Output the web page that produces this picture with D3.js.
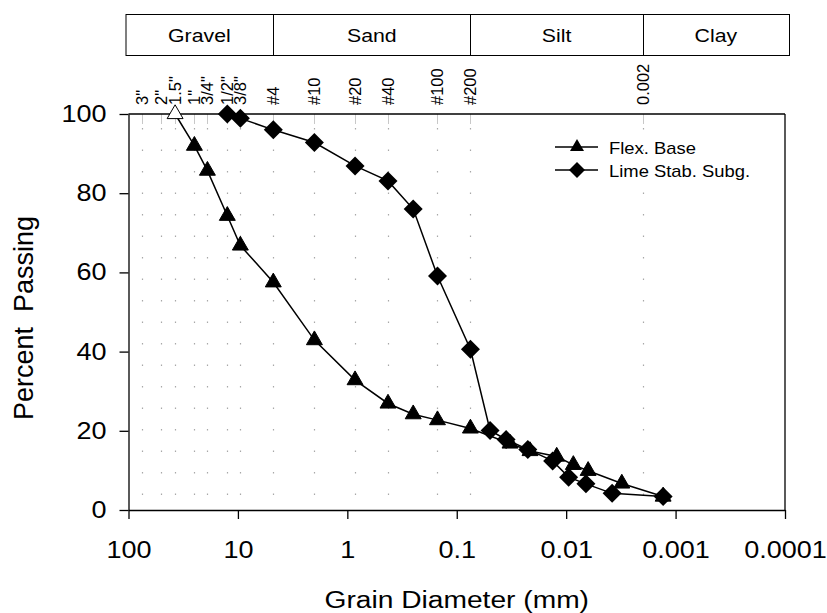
<!DOCTYPE html>
<html>
<head>
<meta charset="utf-8">
<script src="https://cdn.jsdelivr.net/npm/d3@7"></script>
<style>
  html, body { margin: 0; padding: 0; background: #fff; }
  svg { display: block; font-family: "Liberation Sans", Arial, sans-serif; }
</style>
</head>
<body>
<svg id="chart" width="827" height="613"></svg>
<script>
// Sieve openings (mm) and their labels along the top of the plot
const sieveLabels = ['3"', '2"', '1.5"', '1"', '3/4"', '1/2"', '3/8"', '#4', '#10', '#20', '#40', '#100', '#200', '0.002'];
const sieveSizes  = [75, 50, 37.5, 25, 19, 12.5, 9.5, 4.75, 2.0, 0.85, 0.425, 0.15, 0.075, 0.002];

// Soil classes and their boundaries (mm)
const soilClasses = ['Gravel', 'Sand', 'Silt', 'Clay'];
const classBreaks = [4.75, 0.075, 0.002];

// Axis ticks
const xTicks = [100, 10, 1, 0.1, 0.01, 0.001, 0.0001];
const xTickLabels = ['100', '10', '1', '0.1', '0.01', '0.001', '0.0001'];
const yTicks = [0, 20, 40, 60, 80, 100];

// Flex. Base gradation
const flexDiam = [37.5, 25, 19, 12.5, 9.5, 4.75, 2.0, 0.85, 0.425, 0.25, 0.15, 0.075, 0.0326, 0.0214, 0.0122, 0.0086, 0.0063, 0.0031, 0.0013];
const flexPass = [100, 92, 85.7, 74.3, 66.8, 57.5, 42.9, 32.8, 26.9, 24.2, 22.7, 20.6, 16.8, 14.9, 13.5, 11.4, 9.9, 6.7, 3.4];

// Lime Stab. Subg. gradation
const limeDiam = [12.5, 9.5, 4.75, 2.0, 0.85, 0.425, 0.25, 0.15, 0.075, 0.0496, 0.0354, 0.0224, 0.0133, 0.0095, 0.0066, 0.0038, 0.0013];
const limePass = [100, 98.9, 96.0, 92.8, 86.9, 83.1, 76.0, 59.1, 40.6, 20.1, 17.8, 15.3, 12.4, 8.3, 6.6, 4.2, 3.4];

const seriesNames = ['Flex. Base', 'Lime Stab. Subg.'];

const svg = d3.select('#chart');
const plotLeft = 128.5, plotRight = 785, plotTop = 114, plotBottom = 510;
const FONT = '"Liberation Sans", Arial, sans-serif';
const SX = 1.15;          // horizontal widening applied to upright text
const tickFont = 23.5;

const x = d3.scaleLog().domain([100, 0.0001]).range([plotLeft, plotRight]);
const y = d3.scaleLinear().domain([0, 100]).range([plotBottom, plotTop]);

// upright text, widened horizontally about its anchor point
function wideText(parent, tx, ty, str, size, anchor) {
  return parent.append('text')
    .attr('transform', `translate(${tx},${ty}) scale(${SX},1)`)
    .attr('text-anchor', anchor || 'start')
    .attr('font-size', size)
    .text(str);
}

// Sieve grid: short solid tick at the top, then a sparse dotted line
const grid = svg.append('g');
sieveSizes.forEach(s => {
  const gx = Math.round(x(s)) + 0.5;
  grid.append('line')
    .attr('x1', gx).attr('x2', gx).attr('y1', plotTop).attr('y2', plotTop + 10)
    .attr('stroke', '#c8c8c8').attr('stroke-width', 1);
  grid.append('line')
    .attr('x1', gx).attr('x2', gx).attr('y1', plotTop + 14).attr('y2', plotBottom - 4)
    .attr('stroke', '#a8a8a8').attr('stroke-width', 1.2)
    .attr('stroke-dasharray', '1.5,20');
});

// Sieve labels, rotated
svg.append('g').selectAll('text')
  .data(sieveSizes)
  .join('text')
  .attr('transform', d => `translate(${x(d) + 6},105) rotate(-90)`)
  .attr('text-anchor', 'start')
  .attr('font-size', 16.5)
  .attr('fill', '#000')
  .text((d, i) => sieveLabels[i]);

// Soil classification band
const bandTop = 14, bandBottom = 55;
const bandEdges = [x(100) - 3, ...classBreaks.map(b => x(b)), x(0.0001) + 4];
const band = svg.append('g');
band.append('rect')
  .attr('x', bandEdges[0] + 0.5).attr('y', bandTop + 0.5)
  .attr('width', bandEdges[4] - bandEdges[0]).attr('height', bandBottom - bandTop)
  .attr('fill', 'none').attr('stroke', '#000').attr('stroke-width', 1);
classBreaks.forEach(b => {
  const bx = Math.round(x(b)) + 0.5;
  band.append('line')
    .attr('x1', bx).attr('x2', bx).attr('y1', bandTop).attr('y2', bandBottom)
    .attr('stroke', '#000').attr('stroke-width', 1);
});
soilClasses.forEach((name, i) => {
  wideText(band, (bandEdges[i] + bandEdges[i + 1]) / 2, 42, name, 18.5, 'middle');
});

// Axes
const xAxis = d3.axisBottom(x)
  .tickValues(xTicks)
  .tickFormat((d, i) => xTickLabels[i])
  .tickSizeInner(9).tickSizeOuter(0);
const gxAxis = svg.append('g').attr('transform', `translate(0,${plotBottom})`).call(xAxis);
gxAxis.select('.domain').attr('stroke-width', 1.3);
gxAxis.selectAll('.tick line').attr('stroke-width', 1.3);
gxAxis.selectAll('.tick text')
  .attr('y', null).attr('dy', null)
  .attr('transform', `translate(0,48) scale(${SX},1)`)
  .attr('font-size', tickFont).attr('font-family', FONT);

const yAxis = d3.axisLeft(y)
  .tickValues(yTicks)
  .tickSizeInner(9).tickSizeOuter(0);
const gyAxis = svg.append('g').attr('transform', `translate(${plotLeft},0)`).call(yAxis);
gyAxis.select('.domain').attr('stroke-width', 1.3);
gyAxis.selectAll('.tick line').attr('stroke-width', 1.3);
gyAxis.selectAll('.tick text')
  .attr('x', null)
  .attr('transform', `translate(-22,0) scale(${SX},1)`)
  .attr('font-size', tickFont).attr('font-family', FONT);

// Frame top and right
svg.append('line').attr('x1', plotLeft).attr('x2', plotRight).attr('y1', plotTop).attr('y2', plotTop)
  .attr('stroke', '#000').attr('stroke-width', 1.3);
svg.append('line').attr('x1', plotRight).attr('x2', plotRight).attr('y1', plotTop).attr('y2', plotBottom)
  .attr('stroke', '#000').attr('stroke-width', 1.3);

// Axis titles
wideText(svg, (plotLeft + plotRight) / 2, 608, 'Grain Diameter (mm)', 24.5, 'middle');
svg.append('text')
  .attr('transform', `translate(33,318) rotate(-90)`)
  .attr('text-anchor', 'middle').attr('font-size', 27)
  .style('white-space', 'pre')
  .text('Percent  Passing');

// Series
const line = d3.line().x(d => x(d[0])).y(d => y(d[1]));
const flexPts = flexDiam.map((d, i) => [d, flexPass[i]]);
const limePts = limeDiam.map((d, i) => [d, limePass[i]]);

const triangle = d3.symbol().type(d3.symbolTriangle).size(110);
const diamond = 'M0,-9.5L9.5,0L0,9.5L-9.5,0Z';

svg.append('path').attr('d', line(flexPts))
  .attr('fill', 'none').attr('stroke', '#000').attr('stroke-width', 1.5);
svg.append('path').attr('d', line(limePts))
  .attr('fill', 'none').attr('stroke', '#000').attr('stroke-width', 1.5);

svg.append('g').selectAll('path')
  .data(limePts)
  .join('path')
  .attr('transform', d => `translate(${x(d[0])},${y(d[1])})`)
  .attr('d', diamond)
  .attr('fill', '#000');

svg.append('g').selectAll('path')
  .data(flexPts)
  .join('path')
  .attr('transform', d => `translate(${x(d[0])},${y(d[1])})`)
  .attr('d', triangle)
  .attr('fill', (d, i) => i === 0 ? '#fff' : '#000')
  .attr('stroke', '#000').attr('stroke-width', 1);

// Legend
const legend = svg.append('g');
const legY = [147, 170];
const legTriangle = d3.symbol().type(d3.symbolTriangle).size(85);
const legDiamond = 'M0,-8L8,0L0,8L-8,0Z';
seriesNames.forEach((name, i) => {
  legend.append('line')
    .attr('x1', 555).attr('x2', 598).attr('y1', legY[i]).attr('y2', legY[i])
    .attr('stroke', '#000').attr('stroke-width', 1.5);
  legend.append('path')
    .attr('transform', `translate(577,${legY[i]})`)
    .attr('d', i === 0 ? legTriangle() : legDiamond)
    .attr('fill', '#000');
  wideText(legend, 609, legY[i] + 7, name, 16);
});
</script>
</body>
</html>
